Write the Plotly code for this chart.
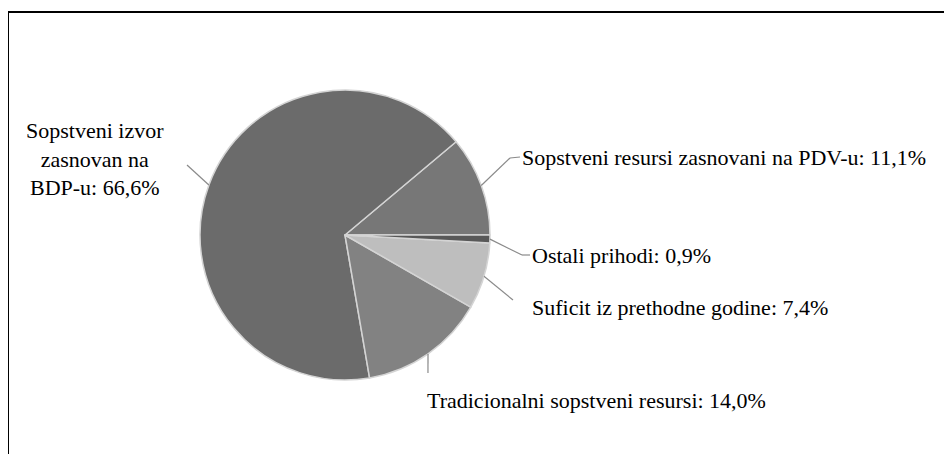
import math
import plotly.graph_objects as go

# Budget revenue structure (share in %)
labels = ["Sopstveni resursi zasnovani na PDV-u", "Sopstveni izvor zasnovan na BDP-u",
          "Tradicionalni sopstveni resursi", "Suficit iz prethodne godine", "Ostali prihodi"]
values = [11.1, 66.6, 14.0, 7.4, 0.9]
label_texts = ["Sopstveni resursi zasnovani na PDV-u: 11,1%",
               "Sopstveni izvor<br>zasnovan na<br>BDP-u: 66,6%",
               "Tradicionalni sopstveni resursi: 14,0%",
               "Suficit iz prethodne godine: 7,4%",
               "Ostali prihodi: 0,9%"]
colors = ["#777777", "#6b6b6b", "#828282", "#bebebe", "#585858"]

W, H = 952, 454
OFF = 8  # page body margin of the browser
CX, CY, R = 345, 235, 145


def px(x):
    return (x - OFF) / W


def py(y):
    return 1 - (y - OFF) / H


fig = go.Figure(go.Pie(
    labels=labels, values=values, sort=False, direction="counterclockwise", rotation=50,
    marker=dict(colors=colors, line=dict(color="#d4d4d4", width=1.5)),
    textinfo="none", hoverinfo="label+percent", showlegend=False,
    domain=dict(x=[px(CX - R), px(CX + R)], y=[py(CY + R), py(CY - R)]),
))

# label layout: elbow points of the leader lines and text anchor (pixels)
label_layout = [
    dict(path=[(510, 158), (520, 157)], text=(520, 157), anchor="left"),
    dict(path=[(187, 165)], text=(95, 159), anchor="center"),
    dict(path=[(428, 373)], text=(596, 400), anchor="center"),
    dict(path=[(513, 300)], text=(530, 307), anchor="left"),
    dict(path=[(522, 255), (530, 255)], text=(530, 255), anchor="left"),
]

total = sum(values)
start = 0.0
for v, txt, lay in zip(values, label_texts, label_layout):
    mid = math.radians((start + v / 2) / total * 360)
    start += v
    pts = [(CX + R * math.cos(mid), CY - R * math.sin(mid))] + lay["path"]
    for (x0, y0), (x1, y1) in zip(pts[:-1], pts[1:]):
        fig.add_shape(type="line", xref="paper", yref="paper",
                      x0=px(x0), y0=py(y0), x1=px(x1), y1=py(y1),
                      line=dict(color="#8a8a8a", width=1.2))
    tx, ty = lay["text"]
    fig.add_annotation(x=px(tx), y=py(ty), xref="paper", yref="paper", text=txt,
                       showarrow=False, xanchor=lay["anchor"], yanchor="middle", align="center",
                       font=dict(family="Liberation Serif", size=22, color="#000000"))

# frame around the chart
fig.add_shape(type="rect", xref="paper", yref="paper",
              x0=px(8), y0=py(470), x1=px(975), y1=py(12),
              line=dict(color="#000000", width=2), layer="below")

fig.update_layout(width=W, height=H, margin=dict(l=0, r=0, t=0, b=0),
                  paper_bgcolor="#ffffff", plot_bgcolor="#ffffff")
fig.write_html("out.html")
